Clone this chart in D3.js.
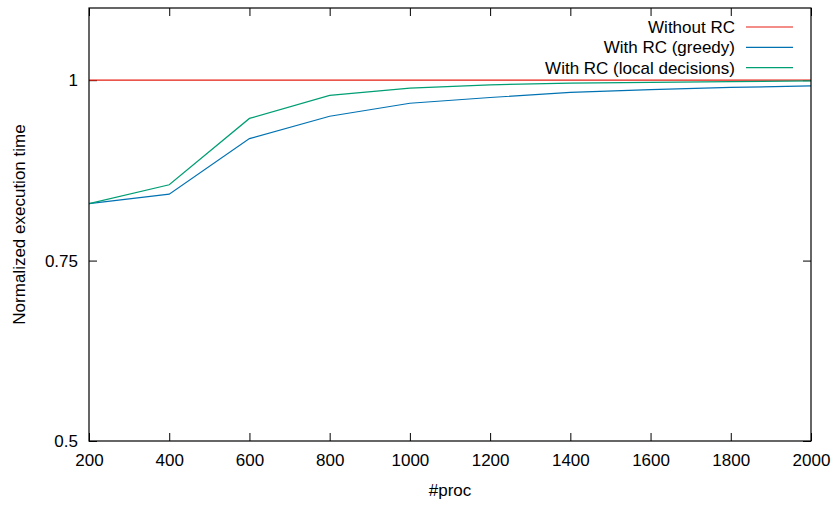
<!DOCTYPE html>
<html>
<head>
<meta charset="utf-8">
<script src="https://cdn.jsdelivr.net/npm/d3@7"></script>
<style>
  body { margin: 0; background: #fff; }
  text { font-family: "Liberation Sans", Helvetica, Arial, sans-serif; }
</style>
</head>
<body>
<div id="wrapper"></div>
<script>
const procs = [200, 400, 600, 800, 1000, 1200, 1400, 1600, 1800, 2000]
const withoutRC = [1, 1, 1, 1, 1, 1, 1, 1, 1, 1]
const greedy = [0.829, 0.842, 0.919, 0.950, 0.968, 0.976, 0.983, 0.987, 0.990, 0.992]
const localDecisions = [0.829, 0.855, 0.947, 0.979, 0.989, 0.9935, 0.996, 0.997, 0.998, 0.999]
const seriesNames = ["Without RC", "With RC (greedy)", "With RC (local decisions)"]
const xTicks = [200, 400, 600, 800, 1000, 1200, 1400, 1600, 1800, 2000]
const yTicks = [0.5, 0.75, 1]

const colors = ["#e51e10", "#0072b2", "#009e73"]
const fontSize = "17px"

let dimensions = {
  width: 838,
  height: 506,
  margin: { top: 8, right: 27, bottom: 65, left: 89 },
}
dimensions.boundedWidth = dimensions.width - dimensions.margin.left - dimensions.margin.right
dimensions.boundedHeight = dimensions.height - dimensions.margin.top - dimensions.margin.bottom

const svg = d3.select("#wrapper")
  .append("svg")
    .attr("width", dimensions.width)
    .attr("height", dimensions.height)

const bounds = svg.append("g")
    .attr("transform", `translate(${dimensions.margin.left},${dimensions.margin.top})`)

const xScale = d3.scaleLinear()
  .domain([200, 2000])
  .range([0, dimensions.boundedWidth])

const yScale = d3.scaleLinear()
  .domain([0.5, 1.1])
  .range([dimensions.boundedHeight, 0])

// axes: ticks point inward on all four sides, like gnuplot
const tickLen = 8
const styleAxis = g => {
  g.select(".domain").remove()
  g.selectAll("line").attr("stroke", "#000").attr("stroke-width", 1)
  g.selectAll("text")
    .attr("fill", "#000")
    .style("font-size", fontSize)
}

bounds.append("g")
    .attr("transform", `translate(0,${dimensions.boundedHeight})`)
    .call(d3.axisBottom(xScale).tickValues(xTicks).tickSize(-tickLen).tickPadding(13).tickFormat(d3.format("d")))
    .call(styleAxis)

bounds.append("g")
    .call(d3.axisTop(xScale).tickValues(xTicks).tickSize(-tickLen).tickFormat(""))
    .call(styleAxis)

bounds.append("g")
    .call(d3.axisLeft(yScale).tickValues(yTicks).tickSize(-tickLen).tickPadding(11).tickFormat(d => d))
    .call(styleAxis)

bounds.append("g")
    .attr("transform", `translate(${dimensions.boundedWidth},0)`)
    .call(d3.axisRight(yScale).tickValues(yTicks).tickSize(-tickLen).tickFormat(""))
    .call(styleAxis)

// lines
const series = [withoutRC, greedy, localDecisions]
const lineGen = d3.line()
  .x((d, i) => xScale(procs[i]))
  .y(d => yScale(d))

bounds.selectAll(".series")
  .data(series)
  .join("path")
    .attr("class", "series")
    .attr("d", lineGen)
    .attr("fill", "none")
    .attr("stroke", (d, i) => colors[i])
    .attr("stroke-width", 1.2)

// frame
bounds.append("rect")
    .attr("width", dimensions.boundedWidth)
    .attr("height", dimensions.boundedHeight)
    .attr("fill", "none")
    .attr("stroke", "#000")
    .attr("stroke-width", 1.2)

// legend
const legend = bounds.append("g")
    .attr("transform", `translate(${dimensions.boundedWidth - 65},19)`)

const rows = legend.selectAll("g")
  .data(seriesNames)
  .join("g")
    .attr("transform", (d, i) => `translate(0,${i * 20.3})`)

rows.append("text")
    .attr("x", -11)
    .attr("dy", "0.35em")
    .attr("text-anchor", "end")
    .style("font-size", fontSize)
    .text(d => d)

rows.append("line")
    .attr("x1", 0)
    .attr("x2", 47)
    .attr("stroke", (d, i) => colors[i])
    .attr("stroke-width", 1.2)

// axis labels
svg.append("text")
    .attr("x", dimensions.margin.left + dimensions.boundedWidth / 2)
    .attr("y", 496)
    .attr("text-anchor", "middle")
    .style("font-size", fontSize)
    .text("#proc")

svg.append("text")
    .attr("transform", `translate(25,${dimensions.margin.top + dimensions.boundedHeight / 2}) rotate(-90)`)
    .attr("text-anchor", "middle")
    .style("font-size", fontSize)
    .text("Normalized execution time")
</script>
</body>
</html>
